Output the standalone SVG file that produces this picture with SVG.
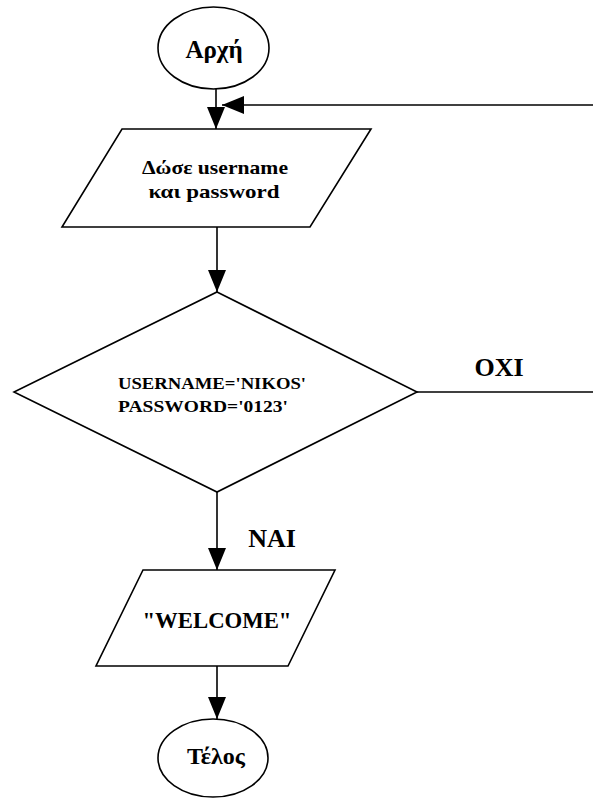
<svg xmlns="http://www.w3.org/2000/svg" width="593" height="800" viewBox="0 0 593 800">
  <style>
    .shape { fill: #ffffff; stroke: #000000; stroke-width: 1.6; }
    .edge { fill: none; stroke: #000000; stroke-width: 1.6; }
    text { font-family: 'Liberation Serif', 'Times New Roman', Times, 'DejaVu Serif', serif; font-weight: 700; fill: #000000; }
  </style>
  <defs>
    <marker id="arrow" markerUnits="userSpaceOnUse" markerWidth="24" markerHeight="20" refX="22" refY="9" orient="auto">
      <path d="M0,0 L22,9 L0,18 Z" fill="#000000"/>
    </marker>
  </defs>

  <!-- Start terminal -->
  <g id="start">
    <ellipse class="shape" cx="213.5" cy="48" rx="55.5" ry="41"/>
    <text x="214" y="58" font-size="25" text-anchor="middle">Αρχή</text>
  </g>

  <!-- Input: username and password -->
  <g id="input">
    <polygon class="shape" points="122,129 371,129 310,227 62,227"/>
    <text x="215" y="174" font-size="19" text-anchor="middle" textLength="146" lengthAdjust="spacingAndGlyphs">Δώσε username</text>
    <text x="214" y="198" font-size="19" text-anchor="middle" textLength="131" lengthAdjust="spacingAndGlyphs">και password</text>
  </g>

  <!-- Decision: credentials check -->
  <g id="check">
    <polygon class="shape" points="217,292 417,392 217,492 14,392"/>
    <text x="118" y="389" font-size="17" textLength="188" lengthAdjust="spacingAndGlyphs">USERNAME='NIKOS'</text>
    <text x="118" y="412" font-size="17" textLength="170" lengthAdjust="spacingAndGlyphs">PASSWORD='0123'</text>
  </g>

  <!-- Output: welcome message -->
  <g id="welcome">
    <polygon class="shape" points="143,570 335,570 288,666 96,666"/>
    <text x="217" y="628" font-size="23" text-anchor="middle" textLength="149" lengthAdjust="spacingAndGlyphs">"WELCOME"</text>
  </g>

  <!-- End terminal -->
  <g id="end">
    <ellipse class="shape" cx="213" cy="758" rx="55" ry="39"/>
    <text x="216" y="764" font-size="24" text-anchor="middle">Τέλος</text>
  </g>

  <!-- Connectors -->
  <g id="connectors">
    <line class="edge" x1="216" y1="89" x2="216" y2="129" marker-end="url(#arrow)"/>
    <line class="edge" x1="217" y1="227" x2="217" y2="292" marker-end="url(#arrow)"/>
    <line class="edge" x1="217" y1="492" x2="217" y2="570" marker-end="url(#arrow)"/>
    <line class="edge" x1="217" y1="666" x2="217" y2="719" marker-end="url(#arrow)"/>
    <polyline class="edge" points="417,392 593,392"/>
    <line class="edge" x1="593" y1="105" x2="222" y2="105" marker-end="url(#arrow)"/>
    <text x="499" y="376" font-size="26" text-anchor="middle">OXI</text>
    <text x="272" y="547" font-size="26" text-anchor="middle">NAI</text>
  </g>
</svg>
